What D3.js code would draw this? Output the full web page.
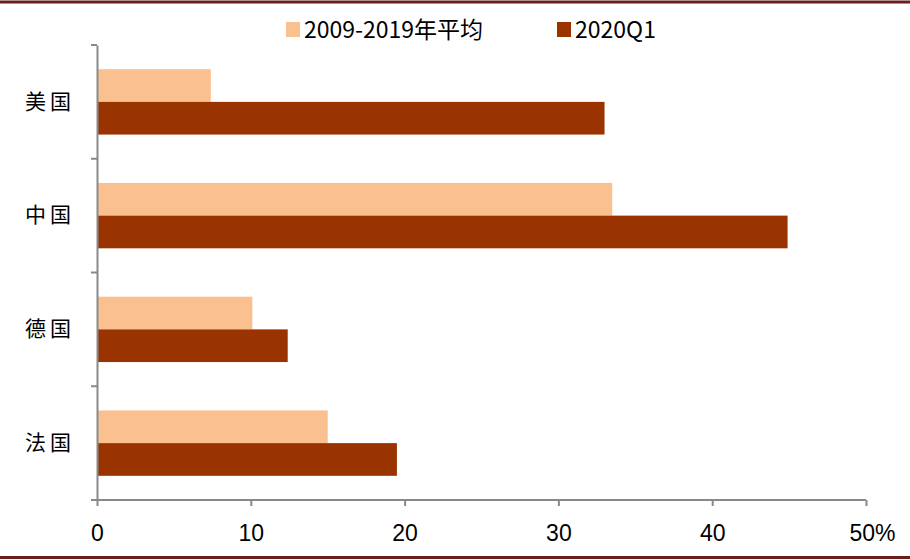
<!DOCTYPE html>
<html>
<head>
<meta charset="utf-8">
<script src="https://cdn.jsdelivr.net/npm/d3@7"></script>
<style>
  body { margin: 0; background: #fff; }
</style>
</head>
<body>
<div id="chart"></div>
<script>
const categories = ["美国", "中国", "德国", "法国"];
const seriesNames = ["2009-2019年平均", "2020Q1"];
const avgValues = [7.4, 33.5, 10.1, 15.0];
const q1Values = [33.0, 44.9, 12.4, 19.5];
const xTicks = [0, 10, 20, 30, 40, 50];
const colors = ["#FAC090", "#993300"];

const width = 910;
const height = 560;
const margin = { top: 45, right: 44, bottom: 60, left: 97 };

const svg = d3.select("#chart")
  .append("svg")
  .attr("width", width)
  .attr("height", height)
  .style("background", "#ffffff");

// frame lines top and bottom
svg.append("line")
  .attr("x1", 0).attr("x2", width)
  .attr("y1", 2).attr("y2", 2)
  .attr("stroke", "#6b1d1d")
  .attr("stroke-width", 3);
svg.append("line")
  .attr("x1", 0).attr("x2", width)
  .attr("y1", 557.5).attr("y2", 557.5)
  .attr("stroke", "#6b1d1d")
  .attr("stroke-width", 3);

const xScale = d3.scaleLinear().domain([0, 50]).range([margin.left, width - margin.right]);
const yScale = d3.scaleBand().domain(categories).range([margin.top, height - margin.bottom]);
const inner = d3.scaleBand().domain(seriesNames).range([0, yScale.bandwidth()]).paddingOuter(0.74);

const data = categories.map((c, i) => ({ cat: c, vals: [avgValues[i], q1Values[i]] }));

const groups = svg.append("g").selectAll("g")
  .data(data)
  .enter()
  .append("g")
  .attr("transform", d => `translate(0, ${yScale(d.cat)})`);

groups.selectAll("rect")
  .data(d => d.vals.map((v, j) => ({ name: seriesNames[j], v, j })))
  .enter()
  .append("rect")
  .attr("x", xScale(0))
  .attr("y", d => inner(d.name))
  .attr("width", d => xScale(d.v) - xScale(0))
  .attr("height", inner.bandwidth())
  .attr("fill", d => colors[d.j]);

// x axis
const xAxis = d3.axisBottom(xScale)
  .tickValues(xTicks)
  .tickSize(6)
  .tickPadding(19)
  .tickFormat(d => d === 50 ? "50%" : d);

const gx = svg.append("g")
  .attr("transform", `translate(0, ${height - margin.bottom})`)
  .call(xAxis);
gx.select(".domain").attr("stroke", "#898989").attr("stroke-width", 2).attr("d", `M${margin.left - 6},0H${width - margin.right}`);
gx.selectAll(".tick line").attr("stroke", "#898989").attr("stroke-width", 2);
gx.selectAll(".tick text")
  .attr("fill", "#000")
  .style("font-family", "'Liberation Sans Narrow', 'Liberation Sans', sans-serif")
  .style("font-size", "23px");
gx.selectAll(".tick text").filter(d => d === 50).attr("dx", 6);

// y axis
const yAxis = d3.axisLeft(yScale).tickSize(0).tickPadding(22);
const gy = svg.append("g")
  .attr("transform", `translate(${margin.left}, 0)`)
  .call(yAxis);
gy.select(".domain").attr("stroke", "#898989").attr("stroke-width", 2);
gy.selectAll(".tick text")
  .attr("fill", "#000")
  .style("font-family", "'Noto Sans CJK SC', sans-serif")
  .style("font-size", "21px")
  .style("letter-spacing", "4px");

// category boundary ticks
const bounds = categories.map(c => yScale(c)).concat([height - margin.bottom]);
svg.append("g").selectAll("line")
  .data(bounds)
  .enter()
  .append("line")
  .attr("x1", margin.left - 6)
  .attr("x2", margin.left)
  .attr("y1", d => d)
  .attr("y2", d => d)
  .attr("stroke", "#898989")
  .attr("stroke-width", 2);

// legend
const legendX = [286, 557];
const legend = svg.append("g").selectAll("g")
  .data(seriesNames)
  .enter()
  .append("g")
  .attr("transform", (d, i) => `translate(${legendX[i]}, 22)`);
legend.append("rect")
  .attr("width", 14)
  .attr("height", 15)
  .attr("fill", (d, i) => colors[i]);
legend.append("text")
  .attr("x", 18)
  .attr("y", 16)
  .text(d => d)
  .attr("fill", "#000")
  .style("font-family", "'Liberation Sans Narrow', 'Noto Sans CJK SC', sans-serif")
  .style("font-size", "23px");
</script>
</body>
</html>
